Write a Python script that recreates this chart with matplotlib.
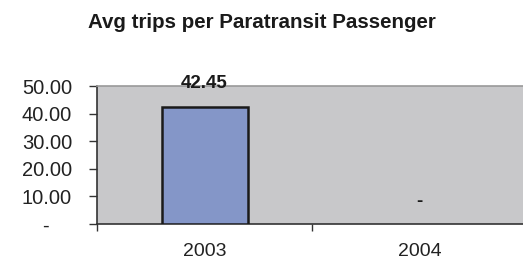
import matplotlib
matplotlib.use("Agg")
import matplotlib.pyplot as plt
import numpy as np

plt.rcParams['font.family'] = ['Liberation Sans', 'DejaVu Sans']

categories = ["2003", "2004"]
values = [42.45, 0.0]
value_labels = ["42.45", "-"]
yticks = [0, 10, 20, 30, 40, 50]
ytick_labels = ["-    ", "10.00", "20.00", "30.00", "40.00", "50.00"]

W, H = 523, 262
fig = plt.figure(figsize=(W/100, H/100), dpi=100)
L, R, T, B = 97, 527, 86, 224
ax = fig.add_axes([L/W, 1-B/H, (R-L)/W, (B-T)/H])
ax.set_facecolor('#C8C8CA')

x = np.arange(len(categories))
lws = [1.8 if v > 0 else 0 for v in values]
ax.bar(x, values, width=0.40, color='#8496C8', edgecolor='#1a1a1a', linewidth=lws, zorder=3)
ax.set_xlim(-0.5, len(categories)-0.5)
ax.set_ylim(0, 50)

for xi, v, lab in zip(x, values, value_labels):
    off = 17 if v > 0 else 16.5
    ax.annotate(lab, (xi, v), xytext=(0, off), textcoords='offset points', ha='center', va='center',
                fontsize=13.5, fontweight='bold', color='#1a1a1a', annotation_clip=False, zorder=5)

ax.set_yticks(yticks)
ax.set_yticklabels(ytick_labels, fontsize=14.5, color='#222222')
ax.set_xticks(x)
ax.set_xticklabels(categories, fontsize=14, color='#222222')
ax.tick_params(axis='x', length=0, pad=14)
ax.set_xticks([-0.5, 0.5, 1.5], minor=True)
ax.tick_params(axis='x', which='minor', length=5, width=1, color='#333333', direction='out')
ax.tick_params(axis='y', length=6, width=1, color='#333333', direction='out', pad=12)

for s in ['left', 'bottom']:
    ax.spines[s].set_color('#333333')
    ax.spines[s].set_linewidth(1.2)
ax.spines['top'].set_color('#999999')
ax.spines['top'].set_linewidth(1.2)
ax.spines['right'].set_visible(False)

fig.text(262/W, 1-22/H, "Avg trips per Paratransit Passenger", ha='center', va='center',
         fontsize=14.8, fontweight='bold', color='#1a1a1a')

fig.savefig("out.png", dpi=100)
